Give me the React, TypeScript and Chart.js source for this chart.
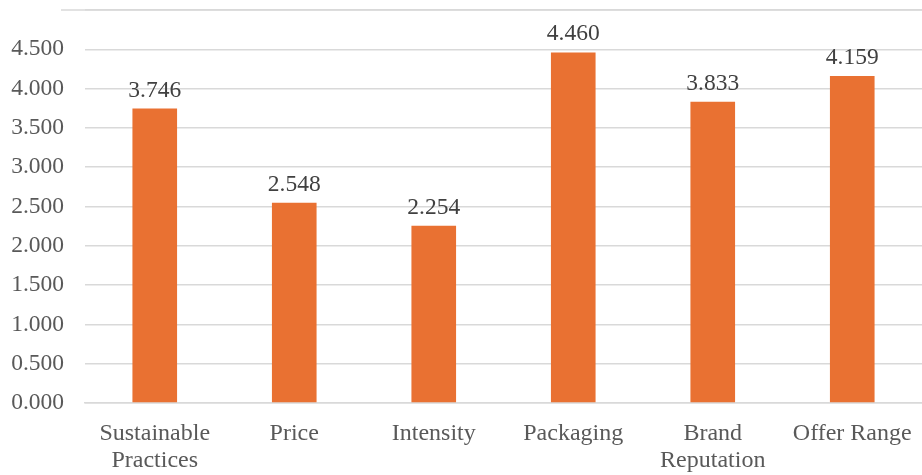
import React, { useEffect, useRef } from "react";
import { Chart, registerables } from "chart.js";

Chart.register(...registerables);

const categories: (string | string[])[] = [
  ["Sustainable", "Practices"],
  "Price",
  "Intensity",
  "Packaging",
  ["Brand", "Reputation"],
  "Offer Range",
];
const values: number[] = [3.746, 2.548, 2.254, 4.46, 3.833, 4.159];

const FONT = "'Liberation Serif', 'Times New Roman', serif";
const TEXT = "#595959";

const labelPlugin = {
  id: "valueLabels",
  afterDatasetsDraw(chart: any) {
    const ctx = chart.ctx;
    const meta = chart.getDatasetMeta(0);
    ctx.save();
    ctx.font = `23.5px ${FONT}`;
    ctx.fillStyle = "#404040";
    ctx.textAlign = "center";
    ctx.textBaseline = "alphabetic";
    meta.data.forEach((bar: any, i: number) => {
      ctx.fillText(values[i].toFixed(3), bar.x, bar.y - 12);
    });
    ctx.restore();
  },
};

const topLinePlugin = {
  id: "topLine",
  beforeDatasetsDraw(chart: any) {
    const ctx = chart.ctx;
    const y = chart.scales.y.getPixelForValue(5);
    ctx.save();
    ctx.strokeStyle = "#d9d9d9";
    ctx.lineWidth = 1.5;
    ctx.beginPath();
    ctx.moveTo(chart.chartArea.left - 24, y);
    ctx.lineTo(chart.chartArea.right, y);
    ctx.stroke();
    ctx.restore();
  },
};

export default function App() {
  const ref = useRef<HTMLCanvasElement | null>(null);
  useEffect(() => {
    document.body.style.margin = "0";
    const chart = new Chart(ref.current!, {
      type: "bar",
      data: {
        labels: categories,
        datasets: [
          {
            data: values,
            backgroundColor: "#E97132",
            barPercentage: 0.32,
            categoryPercentage: 1,
          },
        ],
      },
      options: {
        animation: false,
        responsive: false,
        layout: { padding: { top: 10, right: 0, left: 0, bottom: 0 } },
        plugins: { legend: { display: false }, tooltip: { enabled: false } },
        scales: {
          x: {
            grid: { display: false, drawTicks: false },
            border: { color: "#d9d9d9", width: 1.5 },
            ticks: {
              color: TEXT,
              font: { family: FONT, size: 24, lineHeight: 1.1 },
              padding: 18,
              maxRotation: 0,
              autoSkip: false,
            },
            afterFit(scale: any) {
              scale.height = 72;
              scale.paddingLeft = 0;
              scale.paddingRight = 0;
            },
          },
          y: {
            min: 0,
            max: 5,
            grid: { color: "#d9d9d9", lineWidth: 1.5, drawTicks: false },
            border: { display: false },
            ticks: {
              stepSize: 0.5,
              color: TEXT,
              font: { family: FONT, size: 23.5 },
              padding: 21,
              callback: (v: any) => (Number(v) >= 5 ? "" : Number(v).toFixed(3)),
            },
            afterFit(scale: any) {
              scale.width = 85;
              scale.paddingTop = 0;
              scale.paddingBottom = 0;
            },
          },
        },
      },
      plugins: [topLinePlugin, labelPlugin],
    });
    return () => chart.destroy();
  }, []);
  return (
    <div style={{ width: 922, height: 475 }}>
      <canvas ref={ref} width={922} height={475} />
    </div>
  );
}
